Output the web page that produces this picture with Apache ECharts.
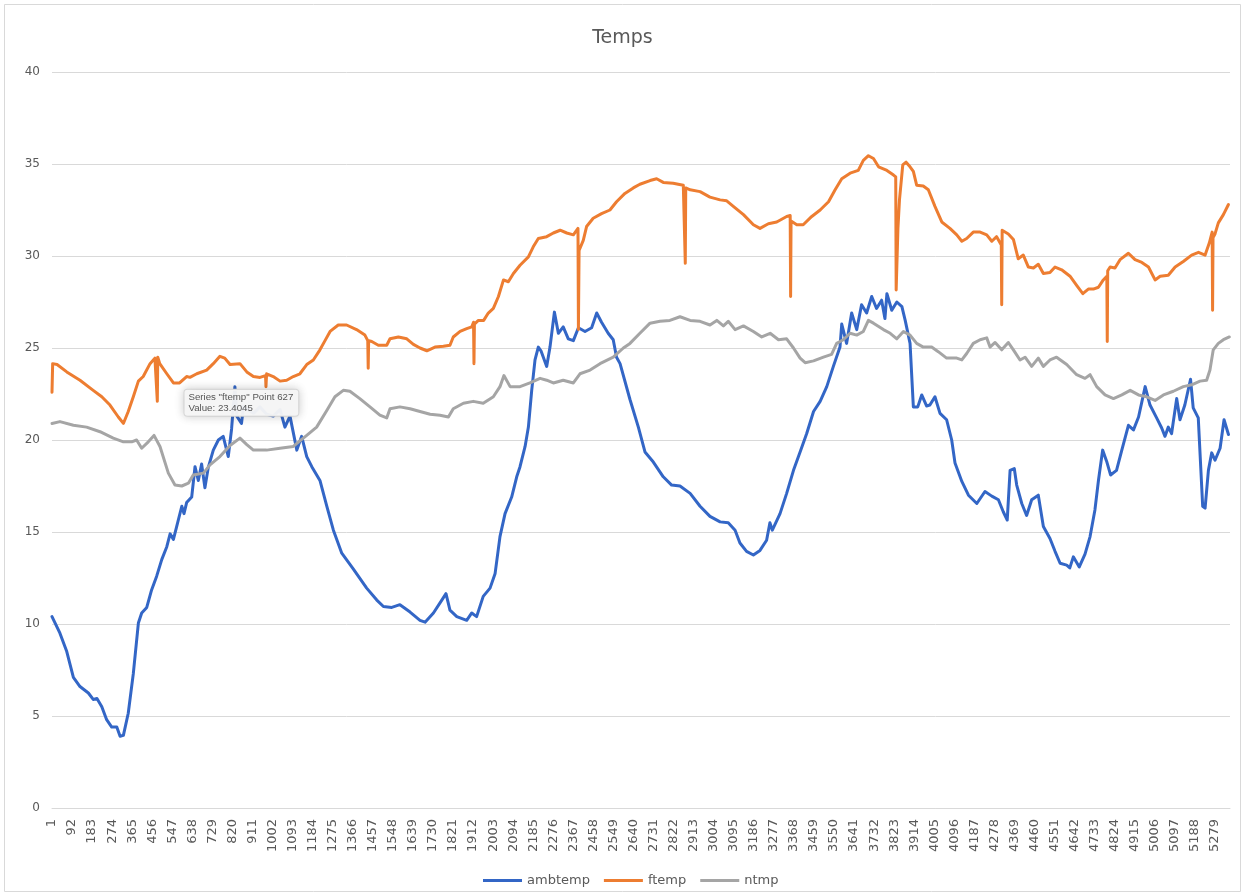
<!DOCTYPE html>
<html><head><meta charset="utf-8">
<script src="https://cdn.jsdelivr.net/npm/echarts@6/dist/echarts.min.js"></script>
<style>html,body{margin:0;padding:0;background:#fff}#c{width:1245px;height:896px}</style>
</head><body><div id="c"></div>
<script>
// point number (1-based) , value
const ambtemp = [[1,10.4],[37,9.5],[68,8.5],[98,7.1],[128,6.6],[166,6.25],[188,5.9],[205,5.95],[227,5.5],[249,4.8],[272,4.4],[295,4.4],[310,3.9],[325,3.95],[347,5.15],[370,7.3],[393,10.05],[408,10.6],[431,10.9],[453,11.85],[476,12.6],[499,13.5],[522,14.2],[537,14.9],[552,14.6],[567,15.3],[590,16.4],[600,16.0],[612,16.6],[635,16.9],[650,18.55],[665,17.8],[680,18.7],[695,17.4],[710,18.5],[733,19.45],[756,20.0],[778,20.2],[801,19.1],[816,20.6],[831,22.9],[840,21.3],[861,20.9],[870,21.8],[915,21.45],[945,21.8],[975,21.4],[1005,21.3],[1036,21.65],[1058,20.7],[1081,21.3],[1112,19.45],[1134,20.2],[1157,19.1],[1180,18.55],[1217,17.8],[1248,16.4],[1278,15.1],[1316,13.85],[1368,13.0],[1429,11.95],[1475,11.3],[1505,10.95],[1543,10.9],[1580,11.05],[1626,10.65],[1671,10.2],[1694,10.1],[1732,10.6],[1770,11.3],[1789,11.65],[1807,10.75],[1838,10.4],[1883,10.2],[1906,10.6],[1928,10.4],[1958,11.5],[1989,11.95],[2012,12.75],[2034,14.75],[2057,16.0],[2087,16.9],[2110,18.0],[2125,18.55],[2148,19.65],[2163,20.7],[2178,22.7],[2193,24.35],[2208,25.05],[2220,24.85],[2246,24.0],[2261,25.05],[2281,26.95],[2299,25.8],[2321,26.15],[2344,25.5],[2367,25.4],[2390,26.1],[2420,25.9],[2450,26.1],[2473,26.9],[2495,26.4],[2525,25.8],[2548,25.45],[2563,24.5],[2579,24.15],[2624,22.2],[2662,20.7],[2692,19.35],[2730,18.8],[2775,18.0],[2813,17.55],[2851,17.5],[2897,17.1],[2942,16.4],[2987,15.85],[3033,15.55],[3070,15.5],[3101,15.1],[3123,14.4],[3153,13.95],[3184,13.75],[3214,14.0],[3244,14.55],[3259,15.5],[3270,15.1],[3305,16.0],[3335,17.1],[3366,18.35],[3396,19.35],[3426,20.35],[3457,21.55],[3487,22.1],[3517,22.9],[3547,24.0],[3577,25.05],[3585,26.3],[3607,25.25],[3630,26.9],[3653,26.0],[3675,27.35],[3698,26.9],[3721,27.8],[3743,27.15],[3766,27.6],[3781,26.6],[3790,27.95],[3812,27.05],[3835,27.5],[3858,27.25],[3873,26.5],[3895,25.25],[3910,21.8],[3930,21.8],[3948,22.45],[3970,21.85],[3985,21.9],[4008,22.35],[4031,21.45],[4061,21.1],[4084,20.0],[4099,18.75],[4130,17.75],[4160,17.0],[4198,16.55],[4235,17.2],[4266,16.95],[4296,16.75],[4318,16.1],[4336,15.65],[4349,18.35],[4368,18.45],[4379,17.55],[4402,16.55],[4424,15.9],[4447,16.75],[4477,17.0],[4500,15.3],[4530,14.65],[4553,13.95],[4576,13.3],[4606,13.2],[4620,13.05],[4636,13.65],[4663,13.1],[4689,13.8],[4712,14.75],[4734,16.2],[4750,17.8],[4769,19.45],[4787,18.85],[4805,18.1],[4832,18.35],[4856,19.45],[4886,20.8],[4909,20.55],[4932,21.25],[4962,22.9],[4984,21.9],[5014,21.2],[5037,20.65],[5052,20.2],[5067,20.7],[5082,20.35],[5105,22.25],[5120,21.1],[5142,21.9],[5168,23.3],[5180,21.75],[5203,21.2],[5223,16.4],[5234,16.3],[5249,18.35],[5264,19.3],[5279,18.9],[5302,19.55],[5320,21.1],[5340,20.3]];

const ftemp = [[1,22.6],[4,24.15],[24,24.1],[68,23.7],[128,23.25],[188,22.7],[227,22.35],[264,21.9],[302,21.25],[325,20.9],[347,21.55],[370,22.35],[393,23.2],[415,23.45],[446,24.15],[468,24.45],[477,24.55],[479,22.1],[481,24.5],[490,24.15],[522,23.6],[552,23.1],[580,23.1],[612,23.45],[627,23.4045],[658,23.6],[703,23.8],[733,24.15],[763,24.55],[785,24.45],[809,24.1],[854,24.15],[885,23.7],[915,23.45],[945,23.4],[970,23.5],[972,22.9],[975,23.6],[1005,23.45],[1036,23.2],[1066,23.25],[1096,23.45],[1126,23.6],[1157,24.1],[1187,24.35],[1217,24.9],[1240,25.4],[1263,25.9],[1300,26.25],[1338,26.25],[1383,26.0],[1421,25.7],[1434,25.4],[1436,23.9],[1438,25.4],[1452,25.35],[1482,25.15],[1520,25.15],[1535,25.5],[1573,25.6],[1611,25.5],[1641,25.2],[1671,25.0],[1702,24.85],[1739,25.05],[1777,25.1],[1807,25.15],[1822,25.6],[1853,25.9],[1883,26.05],[1906,26.15],[1914,26.4],[1916,24.15],[1918,26.3],[1936,26.5],[1960,26.5],[1981,26.9],[2004,27.15],[2027,27.8],[2050,28.7],[2072,28.6],[2095,29.05],[2125,29.5],[2163,29.95],[2185,30.5],[2208,30.95],[2246,31.05],[2276,31.25],[2307,31.4],[2337,31.25],[2367,31.15],[2388,31.5],[2390,26.0],[2393,30.3],[2412,30.85],[2427,31.6],[2457,32.05],[2495,32.3],[2533,32.5],[2563,32.95],[2601,33.4],[2639,33.7],[2669,33.9],[2715,34.1],[2745,34.2],[2775,34.0],[2820,33.95],[2866,33.85],[2873,33.85],[2875,29.6],[2877,33.7],[2897,33.6],[2942,33.5],[2987,33.2],[3033,33.05],[3063,33.0],[3093,32.7],[3139,32.25],[3184,31.7],[3214,31.5],[3252,31.75],[3290,31.85],[3335,32.15],[3351,32.2],[3353,27.8],[3355,31.9],[3381,31.7],[3410,31.7],[3449,32.15],[3487,32.5],[3525,32.95],[3555,33.6],[3585,34.2],[3623,34.5],[3660,34.65],[3683,35.2],[3706,35.45],[3729,35.3],[3752,34.85],[3790,34.65],[3820,34.4],[3830,34.3],[3832,28.15],[3840,31.5],[3847,33.05],[3862,34.95],[3877,35.1],[3895,34.85],[3910,34.6],[3925,33.85],[3955,33.8],[3978,33.6],[4008,32.7],[4039,31.85],[4076,31.5],[4107,31.15],[4130,30.8],[4152,30.95],[4182,31.3],[4213,31.3],[4243,31.15],[4266,30.8],[4288,31.05],[4309,30.6],[4311,27.35],[4313,31.4],[4341,31.2],[4364,30.9],[4386,29.85],[4409,30.05],[4432,29.4],[4455,29.35],[4477,29.55],[4500,29.05],[4530,29.1],[4553,29.4],[4583,29.25],[4621,28.9],[4651,28.4],[4679,27.95],[4704,28.2],[4727,28.2],[4750,28.3],[4772,28.7],[4788,28.9],[4790,25.35],[4792,29.2],[4803,29.4],[4825,29.35],[4848,29.8],[4886,30.15],[4916,29.8],[4947,29.65],[4977,29.4],[5007,28.7],[5030,28.9],[5067,28.95],[5098,29.4],[5135,29.7],[5173,30.05],[5204,30.2],[5234,30.05],[5253,30.7],[5266,31.3],[5268,27.05],[5270,31.0],[5279,31.2],[5294,31.8],[5317,32.25],[5340,32.8]];

const ntmp = [[1,20.9],[37,21.0],[98,20.8],[158,20.7],[219,20.45],[279,20.1],[325,19.9],[363,19.9],[385,20.0],[408,19.55],[438,19.9],[464,20.25],[491,19.65],[529,18.2],[559,17.55],[590,17.5],[620,17.65],[642,18.1],[688,18.2],[718,18.65],[763,19.1],[809,19.7],[854,20.1],[885,19.75],[915,19.45],[975,19.45],[1036,19.55],[1096,19.65],[1126,19.95],[1157,20.25],[1202,20.7],[1248,21.6],[1285,22.35],[1323,22.7],[1353,22.65],[1398,22.25],[1444,21.8],[1489,21.35],[1520,21.2],[1535,21.7],[1580,21.8],[1626,21.7],[1671,21.55],[1717,21.4],[1762,21.35],[1800,21.25],[1822,21.7],[1868,22.0],[1913,22.1],[1958,22.0],[2004,22.35],[2034,22.9],[2052,23.5],[2080,22.9],[2125,22.9],[2170,23.1],[2216,23.35],[2246,23.25],[2276,23.1],[2321,23.25],[2367,23.1],[2397,23.6],[2443,23.8],[2488,24.15],[2548,24.5],[2594,25.0],[2624,25.25],[2669,25.8],[2715,26.35],[2760,26.45],[2805,26.5],[2851,26.7],[2897,26.5],[2942,26.45],[2987,26.25],[3018,26.5],[3048,26.2],[3070,26.45],[3101,26.0],[3139,26.2],[3184,25.9],[3222,25.6],[3260,25.8],[3298,25.45],[3335,25.5],[3366,25.0],[3396,24.45],[3419,24.2],[3457,24.3],[3502,24.5],[3539,24.65],[3562,25.25],[3592,25.45],[3623,25.8],[3653,25.7],[3683,25.9],[3706,26.5],[3729,26.35],[3774,26.0],[3805,25.8],[3835,25.5],[3865,25.9],[3895,25.7],[3925,25.25],[3955,25.05],[3993,25.05],[4023,24.8],[4061,24.45],[4107,24.45],[4130,24.35],[4152,24.7],[4182,25.25],[4213,25.45],[4243,25.55],[4258,25.05],[4281,25.3],[4311,24.9],[4341,25.3],[4364,24.9],[4394,24.35],[4417,24.5],[4447,24.0],[4477,24.45],[4500,24.0],[4530,24.35],[4560,24.5],[4606,24.1],[4651,23.55],[4689,23.35],[4712,23.55],[4742,22.9],[4780,22.45],[4818,22.25],[4856,22.45],[4894,22.7],[4932,22.45],[4969,22.35],[5007,22.15],[5045,22.45],[5090,22.65],[5135,22.9],[5173,23.0],[5211,23.2],[5241,23.25],[5256,23.8],[5271,24.9],[5294,25.25],[5317,25.45],[5344,25.6]];

const seriesNames = ['ambtemp', 'ftemp', 'ntmp'];
const seriesColors = ['#3366C6', '#ED7D31', '#A5A5A5'];
const xLabelStep = 91;      // category label every 91 points: 1, 92, 183, ...
const lastPoint = 5347;
const yMin = 0, yMax = 40, yStep = 5;
const hoverSeries = 'ftemp', hoverPoint = 627, hoverValue = 23.4045;

const toAxis = arr => arr.map(([p, v]) => [p - 1, v]);
const lists = [ambtemp, ftemp, ntmp];

const chart = echarts.init(document.getElementById('c'), null, {renderer: 'canvas'});
const font = 'DejaVu Sans, sans-serif';
const tipFont = 'Liberation Sans, Arial, sans-serif';

const series = seriesNames.map((name, k) => {
  const s = {
    name, type: 'line', data: toAxis(lists[k]),
    symbol: 'none', smooth: false, animation: false,
    lineStyle: {color: seriesColors[k], width: 3, join: 'round', cap: 'round'},
    itemStyle: {color: seriesColors[k]}
  };
  if (name === hoverSeries) {
    s.markPoint = {
      symbol: 'circle', symbolSize: 1,
      itemStyle: {color: 'rgba(0,0,0,0)'},
      data: [{coord: [hoverPoint - 1, hoverValue]}],
      label: {
        show: true, position: [-5, 13],
        formatter: 'Series "' + hoverSeries + '" Point ' + hoverPoint + '\nValue: ' + hoverValue,
        fontFamily: tipFont, fontSize: 9.7, lineHeight: 11, color: '#555',
        backgroundColor: 'rgba(246,246,246,0.96)', borderColor: '#e2e2e2', borderWidth: 1,
        borderRadius: 3, padding: [2, 5, 2, 4],
        shadowColor: 'rgba(0,0,0,0.18)', shadowBlur: 10
      }
    };
  }
  return s;
});

chart.setOption({
  backgroundColor: '#fff',
  animation: false,
  title: {
    text: 'Temps', left: 'center', top: 24,
    textStyle: {fontFamily: font, fontSize: 19, fontWeight: 'normal', color: '#595959'}
  },
  legend: {
    data: seriesNames.map(n => ({name: n, icon: 'rect'})),
    bottom: 4, left: 478, itemWidth: 39, itemHeight: 3, itemGap: 14,
    textStyle: {fontFamily: font, fontSize: 13, color: '#595959'}
  },
  grid: {left: 52, right: 15, top: 72, bottom: 88, containLabel: false},
  xAxis: {
    type: 'value', min: 0, max: lastPoint - 1, interval: xLabelStep,
    splitLine: {show: false},
    axisLine: {show: true, lineStyle: {color: '#d9d9d9', width: 1}},
    axisTick: {show: false},
    axisLabel: {
      rotate: 90, margin: 11, fontFamily: font, fontSize: 13, color: '#595959',
      showMaxLabel: false, showMinLabel: true,
      formatter: v => String(v + 1)
    }
  },
  yAxis: {
    type: 'value', min: yMin, max: yMax, interval: yStep,
    axisLine: {show: false}, axisTick: {show: false},
    splitLine: {lineStyle: {color: '#d9d9d9', width: 1}},
    axisLabel: {margin: 12, fontFamily: font, fontSize: 12, color: '#595959'}
  },
  graphic: [{
    type: 'rect', silent: true, z: -1,
    shape: {x: 4.5, y: 4.5, width: 1236, height: 887},
    style: {fill: 'none', stroke: '#d9d9d9', lineWidth: 1}
  }],
  series
});
</script></body></html>
